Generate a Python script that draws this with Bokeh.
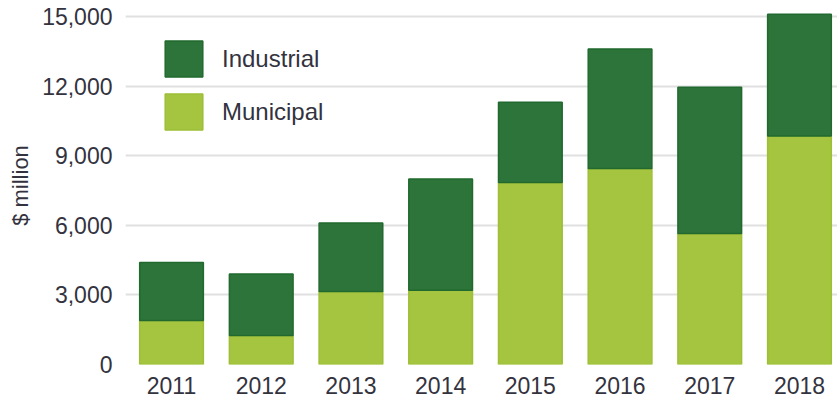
from bokeh.plotting import figure
from bokeh.models import Range1d, Legend, LegendItem, NumeralTickFormatter, FixedTicker, ColumnDataSource
from bokeh.embed import file_html
from bokeh.resources import INLINE

years = ["2011", "2012", "2013", "2014", "2015", "2016", "2017", "2018"]
municipal = [1900, 1250, 3150, 3200, 7850, 8450, 5650, 9850]
industrial = [2500, 2650, 2950, 4800, 3450, 5150, 6300, 5250]
y_ticks = [0, 3000, 6000, 9000, 12000, 15000]

FONT = "Liberation Sans"
TXT = "#333340"

src = ColumnDataSource(dict(x=list(range(len(years))), Municipal=municipal, Industrial=industrial))

p = figure(width=837, height=403, output_backend="svg", toolbar_location=None,
           x_range=Range1d(-0.513, 7.424), y_range=Range1d(0, 15431),
           min_border_left=125, min_border_right=0, min_border_top=6, min_border_bottom=39)

rs = p.vbar_stack(["Municipal", "Industrial"], x="x", width=0.71, source=src,
                  fill_color=["#a5c440", "#2c743a"], line_color=["#9cbf36", "#21692e"], line_width=1.5)

p.outline_line_color = None
p.background_fill_color = "white"
p.border_fill_color = "white"
p.xgrid.grid_line_color = None
p.ygrid.grid_line_color = "#e0e0e0"
p.ygrid.grid_line_width = 2

p.xaxis.ticker = FixedTicker(ticks=list(range(len(years))))
p.xaxis.major_label_overrides = {i: y for i, y in enumerate(years)}
p.yaxis.ticker = FixedTicker(ticks=y_ticks)
p.yaxis.formatter = NumeralTickFormatter(format="0,0")
for ax in (p.xaxis, p.yaxis):
    ax.axis_line_color = None
    ax.major_tick_line_color = None
    ax.minor_tick_line_color = None
    ax.major_label_text_font = FONT
    ax.major_label_text_color = TXT
p.yaxis.major_label_text_font_size = "23px"
p.xaxis.major_label_text_font_size = "23px"
p.yaxis.major_label_standoff = 7
p.xaxis.major_label_standoff = 6
p.yaxis.axis_label = "$ million"
p.yaxis.axis_label_text_font = FONT
p.yaxis.axis_label_text_font_size = "22px"
p.yaxis.axis_label_text_font_style = "normal"
p.yaxis.axis_label_text_color = TXT
p.yaxis.axis_label_standoff = 6

legend = Legend(items=[LegendItem(label="Industrial", renderers=[rs[1]]),
                       LegendItem(label="Municipal", renderers=[rs[0]])],
                location=(35, 230), padding=0, margin=0, spacing=8,
                glyph_width=47, glyph_height=45, label_height=45, label_standoff=15,
                label_text_font=FONT, label_text_font_size="24px", label_text_color=TXT,
                border_line_color=None, background_fill_alpha=0)
p.add_layout(legend)

open("out.html", "w").write(file_html(p, INLINE))
